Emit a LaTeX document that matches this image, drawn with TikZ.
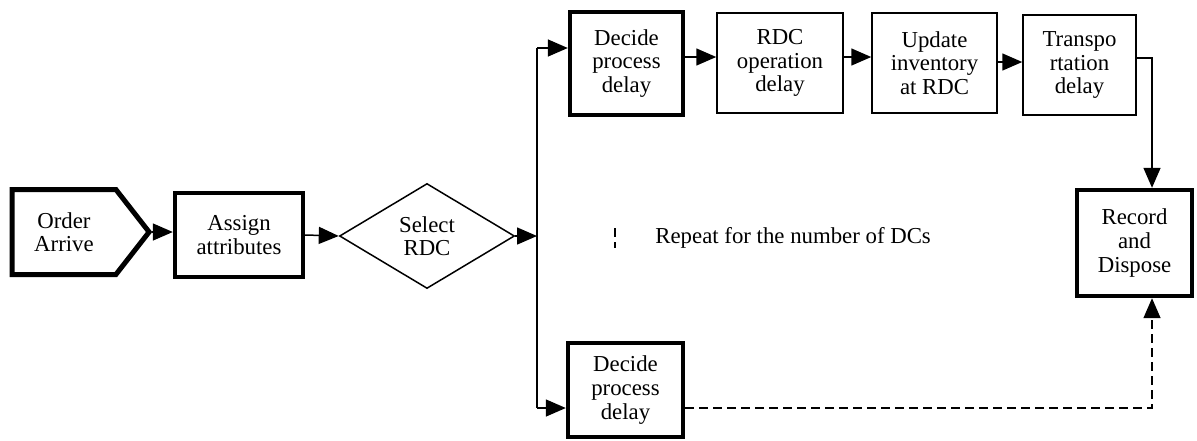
\documentclass[tikz,border=0pt]{standalone}
\usepackage{fontspec}
\setmainfont{Liberation Serif}
\usetikzlibrary{shapes.geometric,shapes.symbols,arrows.meta,calc}

\begin{document}
\begin{tikzpicture}[x=0.5pt, y=-0.5pt,
    every node/.style={font=\fontsize{11.4}{11.8}\selectfont, align=center, inner sep=0pt},
    box/.style={draw, line width=0.75pt},
    boldbox/.style={draw, line width=2.2pt},
    flow/.style={-{Triangle[length=10pt,width=8.5pt]}, line width=0.75pt},
    dashline/.style={line width=0.75pt, dash pattern=on 4.5pt off 2.5pt}]
                    \useasboundingbox (0,0) rectangle (1197,440);

                    % Main line
                    \node[signal, signal to=east, signal from=nowhere, signal pointer angle=104, draw, line width=2.5pt, minimum width=68.5pt, minimum height=42.5pt] (arrive) at (64,232) {Order\\Arrive};
                    \node[boldbox, minimum width=64pt, minimum height=42pt] (assign) at (239,235) {Assign\\attributes};
                    \node[diamond, draw, line width=0.75pt, minimum width=87.5pt, minimum height=52.5pt] (select) at (427,236) {Select\\RDC};

                    \draw[flow] (arrive.east) -- (assign.west |- arrive.east);
                    \draw[flow] (assign.east) -- (select.west);

                    % Split to the DCs
                    \coordinate (split top) at (537,48);
                    \coordinate (split mid) at (537,236);
                    \coordinate (split bot) at (537,408);
                    \draw[line width=0.75pt] (split top) -- (split bot);
                    \draw[flow] (select.east) -- (split mid);

                    % Upper branch
                    \node[boldbox, minimum width=56.5pt, minimum height=51.5pt] (decide1) at (626.5,63.5) {Decide\\process\\delay};
                    \node[box, minimum width=63pt, minimum height=50pt] (operation) at (780,63) {RDC\\operation\\delay};
                    \node[box, minimum width=62.5pt, minimum height=50pt] (update) at (934.5,63) {Update\\inventory\\at RDC};
                    \node[box, minimum width=56.5pt, minimum height=50pt] (transport) at (1079.5,65) {Transpo\\rtation\\delay};

                    \draw[flow] (split top) -- (split top -| decide1.west);
                    \draw[flow] (decide1.east |- 0,57) -- (operation.west |- 0,57);
                    \draw[flow] (operation.east |- 0,57) -- (update.west |- 0,57);
                    \draw[flow] (update.east |- 0,62) -- (transport.west |- 0,62);

                    % End
                    \node[boldbox, minimum width=57.5pt, minimum height=53pt] (record) at (1134.5,243) {Record\\and\\Dispose};
                    \draw[flow] (transport.east |- 0,58) -| ($(record.north)+(17.5,0)$);

                    % Lower branch
                    \node[boldbox, minimum width=57.5pt, minimum height=47pt] (decide2) at (625.5,390) {Decide\\process\\delay};
                    \draw[flow] (split bot) -- (split bot -| decide2.west);
                    \draw[flow, dashline] (decide2.east |- 0,408) -| ($(record.south)+(17.5,0)$);

                    % Legend
                    \coordinate (leg top) at (615,228);
                    \coordinate (leg bot) at (615,248);
                    \draw[dashline] (leg top) -- (leg bot);
                    \node[anchor=west] (legend) at (655,238) {Repeat for the number of DCs};
                \end{tikzpicture}
\end{document}
